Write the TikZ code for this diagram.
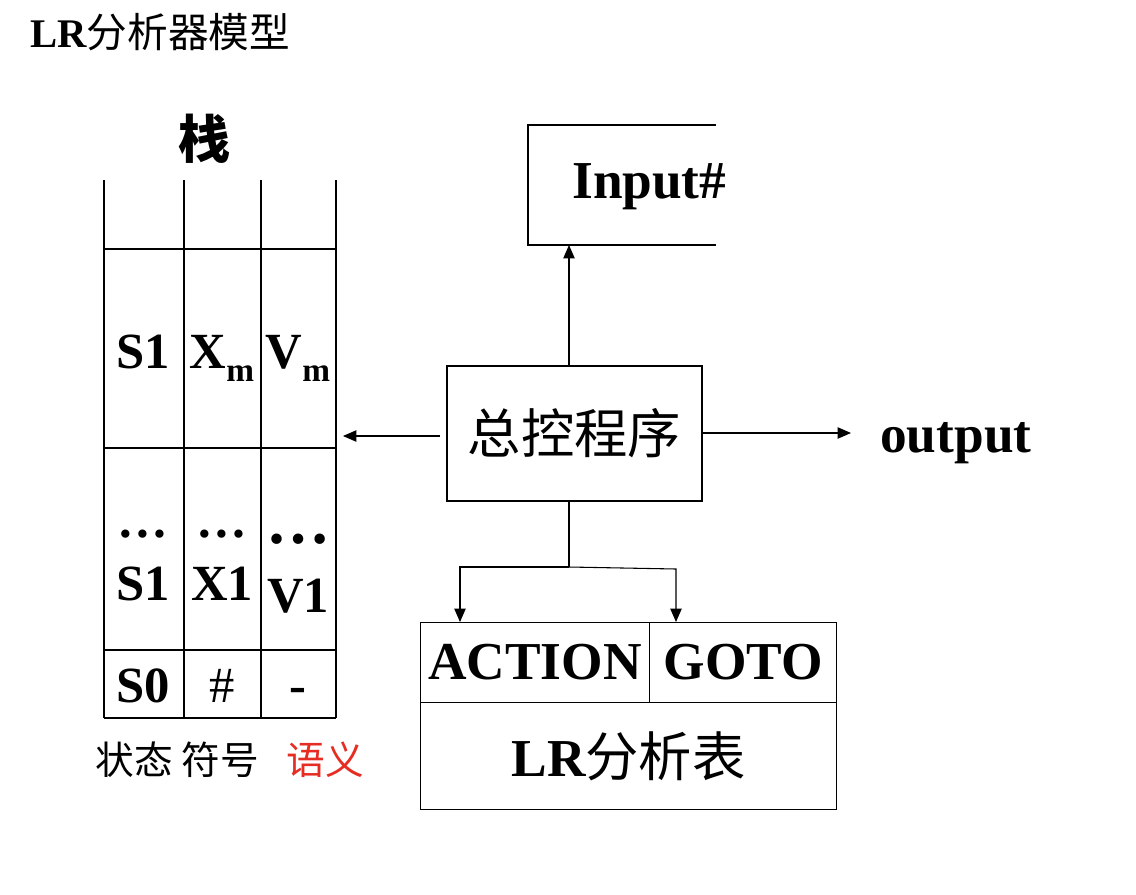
\documentclass[tikz,border=0pt]{standalone}
\usepackage{fontspec}
\setmainfont{Liberation Serif}
\newfontfamily\cjk{Noto Sans CJK SC}
\usetikzlibrary{arrows.meta}
\definecolor{semred}{RGB}{230,45,35}
\newcommand\subm{\raisebox{-10pt}{\fontsize{25pt}{25pt}\selectfont m}}
\tikzset{
  ln/.style={draw=black, line width=0.8pt},
  arr/.style={ln, -{Triangle[length=10pt,width=8.5pt]}},
  big/.style={font=\fontsize{40pt}{48pt}\selectfont\bfseries},
  stk/.style={font=\fontsize{38pt}{44pt}\selectfont\bfseries, anchor=base, inner sep=0pt},
  lab/.style={font=\fontsize{29pt}{34pt}\selectfont\cjk, inner sep=0pt},
  cell/.style={ln, inner sep=0pt, anchor=north west},
}
\begin{document}
\begin{tikzpicture}[x=0.75pt, y=-0.75pt]
\useasboundingbox (0,0) rectangle (1136,894);
% title
\node[anchor=base west, inner sep=0pt, font=\fontsize{30.5pt}{36pt}\selectfont] (title) at (30,47) {{\bfseries LR}{\cjk 分析器模型}};
% stack
\node[font=\fontsize{39pt}{44pt}\selectfont\cjk\bfseries, inner sep=0pt] (zhan) at (204,139) {栈};
\foreach \x in {104,184,261,336} \draw[ln] (\x,180) -- (\x,718);
\foreach \y in {249,448,650,718} \draw[ln] (104,\y) -- (336,\y);
\node[stk] (s1a) at (143,368) {S1};
\node[stk] (xm) at (222,368) {X\subm};
\node[stk] (vm) at (298,368) {V\subm};
\node[stk] (d1) at (143,537) {…};
\node[stk] (d2) at (222,537) {…};
\node[stk, font=\fontsize{48pt}{52pt}\selectfont\bfseries] (d3) at (298,543) {…};
\node[stk] (s1b) at (143,600) {S1};
\node[stk] (x1) at (222,600) {X1};
\node[stk] (v1) at (298,612) {V1};
\node[stk] (s0) at (143,702) {S0};
\node[stk, font=\fontsize{38pt}{44pt}\selectfont] (hash) at (222,702) {\#};
\node[stk] (dash0) at (298,702) {-};
\node[lab] (lab1) at (177.5,760) {状态 符号};
\node[lab, text=semred] (lab2) at (325,760) {语义};
\coordinate (stkin) at (343,436);
% control
\node[ln, minimum width=191.25pt, minimum height=101.25pt, inner sep=0pt,
      font=\fontsize{40pt}{48pt}\selectfont\cjk] (ctrl) at (574.5,433.5) {总控程序};
% input
\draw[ln] (716,125) -| (528,245) -- (716,245);
\node[big, anchor=base west, inner sep=0pt] (inp) at (572,198) {Input\#};
\coordinate (inb) at (569,245);
\draw[arr] (inb |- ctrl.north) -- (inb);
% left arrow
\draw[arr, shorten <=5pt] (ctrl.west |- stkin) -- (stkin);
% output
\coordinate (outp) at (851,433);
\draw[arr] (ctrl.east |- outp) -- (outp);
\node[big, anchor=base west, inner sep=0pt] (out) at (880,452) {output};
% table
\node[cell, big, minimum width=171.75pt, minimum height=60pt] (act) at (420,622) {ACTION};
\node[cell, big, minimum width=140.25pt, minimum height=60pt] (goto) at (649,622) {GOTO};
\node[cell, minimum width=312pt, minimum height=80.25pt, font=\fontsize{40pt}{48pt}\selectfont] (tab) at (420,702) {{\bfseries LR}{\cjk 分析表}};
% branches
\coordinate (br) at (569,567);
\coordinate (bl) at (460,567);
\coordinate (brr) at (676,569);
\draw[ln] (br |- ctrl.south) -- (br);
\draw[arr] (br) -- (bl) -- (bl |- act.north);
\draw[arr] (br) -- (brr) -- (brr |- goto.north);
\end{tikzpicture}
\end{document}
